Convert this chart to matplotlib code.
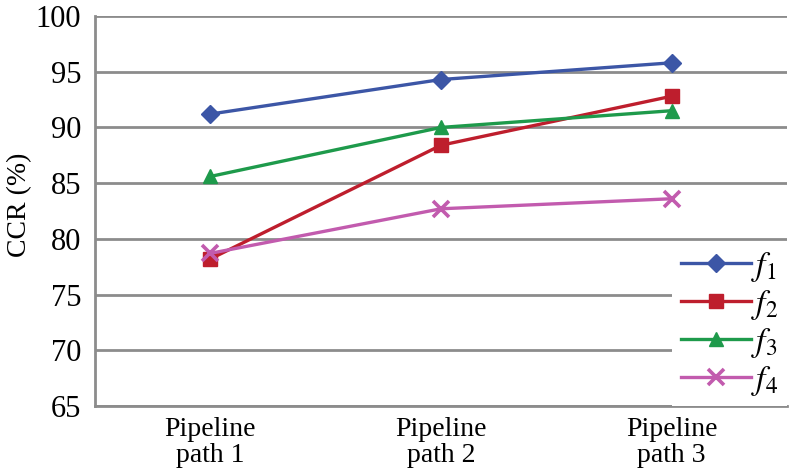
import matplotlib
matplotlib.use("Agg")
import matplotlib.pyplot as plt

categories = ["Pipeline\npath 1", "Pipeline\npath 2", "Pipeline\npath 3"]
series_names = ["$f_1$", "$f_2$", "$f_3$", "$f_4$"]
f1 = [91.2, 94.3, 95.8]
f2 = [78.2, 88.4, 92.8]
f3 = [85.6, 90.0, 91.5]
f4 = [78.7, 82.7, 83.6]
yticks = [65, 70, 75, 80, 85, 90, 95, 100]

plt.rcParams['font.family'] = ['Liberation Serif', 'DejaVu Serif']
plt.rcParams['mathtext.fontset'] = 'stix'

fig = plt.figure(figsize=(7.96, 4.76), dpi=100)
ax = fig.add_axes([95/796, 1-406/476, (787-95)/796, (406-16)/476])

x = [0.5, 1.5, 2.5]
styles = [
    (f1, '#3C56A6', 'D', 9),
    (f2, '#BE1E2D', 's', 10.5),
    (f3, '#1E9A4B', '^', 10.5),
    (f4, '#C25BAE', 'x', 11),
]
for (vals, col, mk, ms), name in zip(styles, series_names):
    kw = dict(color=col, lw=2.4, marker=mk, markersize=ms, label=name,
              markerfacecolor=col, markeredgecolor=col)
    if mk == 'x':
        kw['markeredgewidth'] = 2.6
    ax.plot(x, vals, **kw)

ax.set_xlim(0, 3)
ax.set_ylim(65, 100)
ax.set_yticks(yticks)
ax.set_xticks(x)
ax.set_xticklabels(categories, fontsize=20, linespacing=1.05)
ax.tick_params(axis='both', length=0)
ax.tick_params(axis='y', labelsize=22, pad=10)
ax.tick_params(axis='x', pad=8)
ax.yaxis.grid(True, color='#8C8C8C', lw=2)
ax.set_axisbelow(True)
for s in ['top', 'right']:
    ax.spines[s].set_visible(False)
for s in ['left', 'bottom']:
    ax.spines[s].set_color('#8C8C8C')
    ax.spines[s].set_linewidth(2)
ax.set_ylabel("CCR (%)", fontsize=20, va='center')
ax.yaxis.set_label_coords((20 - 95) / 692, (406 - 205) / 390)

leg = ax.legend(loc='lower right', bbox_to_anchor=(1.0, 0.0), fontsize=24,
                frameon=True, framealpha=1, edgecolor='white', fancybox=False,
                handlelength=2.1, handletextpad=0.02, labelspacing=0.12,
                borderpad=0.25, borderaxespad=0.0)
leg.get_frame().set_linewidth(0)

fig.savefig("out.png", dpi=100)
